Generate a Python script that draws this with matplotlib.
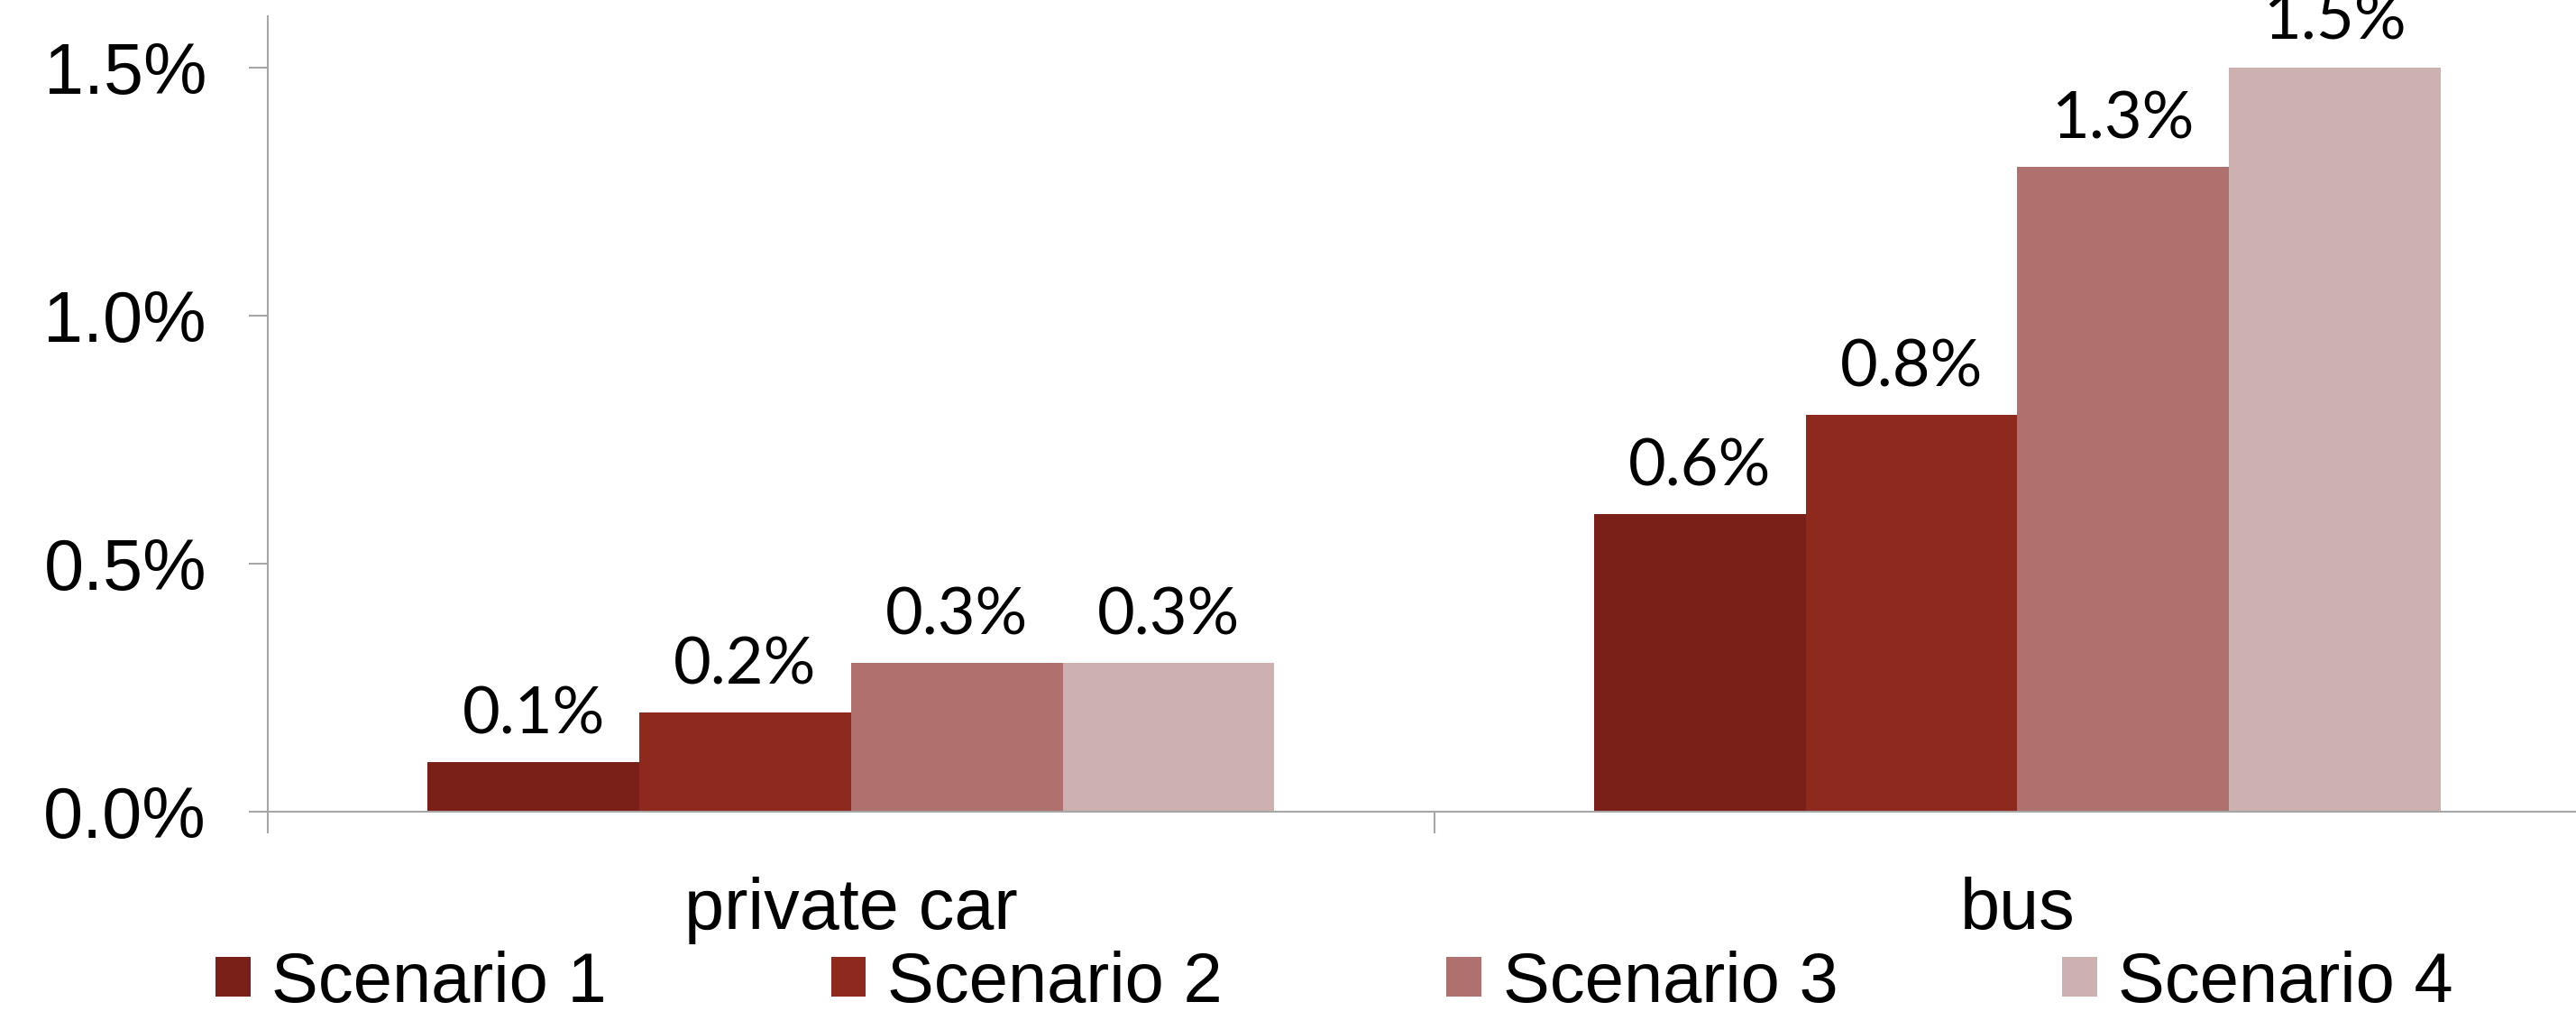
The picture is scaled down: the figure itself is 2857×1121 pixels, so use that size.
import matplotlib
matplotlib.use('Agg')
import matplotlib.pyplot as plt
import matplotlib.ticker as mticker
from matplotlib.patches import Patch
import numpy as np

# data
categories = ['private car', 'bus']
scenarios = ['Scenario 1', 'Scenario 2', 'Scenario 3', 'Scenario 4']
values = {
    'Scenario 1': [0.1, 0.6],
    'Scenario 2': [0.2, 0.8],
    'Scenario 3': [0.3, 1.3],
    'Scenario 4': [0.3, 1.5],
}
colors = ['#7A2019', '#8E291E', '#AE716D', '#CDB0B0']
yticks = [0.0, 0.5, 1.0, 1.5]

plt.rcParams['font.family'] = ['Liberation Sans', 'DejaVu Sans']
AXC = '#A6A6A6'

fig = plt.figure(figsize=(28.57, 11.21), dpi=100)
fig.patch.set_facecolor('white')
ax = fig.add_axes([0.1040, 0.1971, 0.9055, 0.787])

x = np.arange(len(categories))
bw = 0.1815
for i, (name, c) in enumerate(zip(scenarios, colors)):
    off = (i - 1.5) * bw
    bars = ax.bar(x + off, values[name], width=bw, color=c, edgecolor='none', label=name)
    for b, v in zip(bars, values[name]):
        ax.annotate(f'{v:.1f}%', xy=(b.get_x() + b.get_width() / 2, v),
                    xytext=(0, 14), textcoords='offset points',
                    ha='center', va='bottom', fontsize=52, family=['Lato', 'DejaVu Sans'])

ax.set_xlim(-0.5, 1.5)
ax.set_ylim(0, 1.604)
ax.set_yticks(yticks)
ax.yaxis.set_major_formatter(mticker.FuncFormatter(lambda v, p: f'{v:.1f}%'))
ax.tick_params(axis='y', length=15, width=1.5, color=AXC, pad=34, labelsize=57)

# category boundaries as major ticks, labels on minor ticks
ax.set_xticks([-0.5, 0.5, 1.5])
ax.set_xticklabels([])
ax.set_xticks(x, minor=True)
ax.set_xticklabels(categories, minor=True)
ax.tick_params(axis='x', which='major', length=17, width=1.5, color=AXC, direction='out')
ax.tick_params(axis='x', which='minor', length=0, pad=52, labelsize=57)

for s in ['top', 'right']:
    ax.spines[s].set_visible(False)
for s in ['left', 'bottom']:
    ax.spines[s].set_color(AXC)
    ax.spines[s].set_linewidth(1.5)

handles = [Patch(facecolor=c, edgecolor='none') for c in colors]
fig.legend(handles, scenarios, loc='center', bbox_to_anchor=(0.518, 1 - 1090 / 1121),
           ncol=4, frameon=False, fontsize=56, handlelength=0.5, handleheight=0.5,
           handletextpad=0.3, columnspacing=3.2, borderpad=0)

plt.savefig('out.png', dpi=100, facecolor='white')
